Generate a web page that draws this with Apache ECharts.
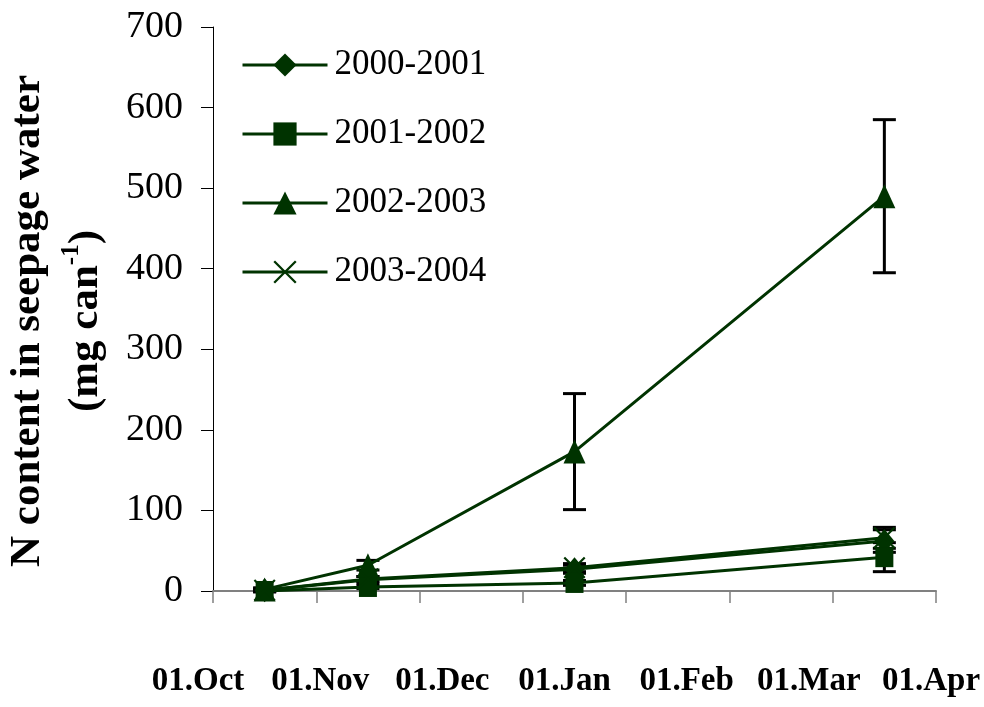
<!DOCTYPE html>
<html>
<head>
<meta charset="utf-8">
<script src="https://cdn.jsdelivr.net/npm/echarts@6/dist/echarts.min.js"></script>
<style>html,body{margin:0;padding:0;background:#fff}#c{width:984px;height:707px}</style>
</head>
<body>
<div id="c"></div>
<script>
// ---- data ----
const months = ['Oct', 'Nov', 'Dec', 'Jan', 'Feb', 'Mar', 'Apr'];
const monthLabels = ['01.Oct', '01.Nov', '01.Dec', '01.Jan', '01.Feb', '01.Mar', '01.Apr'];
const seriesNames = ['2000-2001', '2001-2002', '2002-2003', '2003-2004'];
const s2000 = [1, 14, null, 27, null, null, 62];
const s2001 = [0, 5, null, 10, null, null, 42];
const s2002 = [2, 32, null, 173, null, null, 490];
const s2003 = [1, 15, null, 29, null, null, 66];
const e2000 = [2, 4, null, 5, null, null, 14];
const e2001 = [1, 2, null, 3, null, null, 18];
const e2002 = [2, 6, null, 72, null, null, 95];
const e2003 = [1, 3, null, 5, null, null, 13];
const yTicks = { min: 0, max: 700, interval: 100 };

// ---- styling ----
const GREEN = '#003300';
const FONT = "'Liberation Serif', 'Times New Roman', serif";
const xPath = 'path://M0,7 L7,0 L50,43 L93,0 L100,7 L57,50 L100,93 L93,100 L50,57 L7,100 L0,93 L43,50 Z';
const symbols = [['diamond', [20, 24]], ['rect', [18, 20]], ['triangle', [22, 24]], [xPath, [22, 22]]];
const values = [s2000, s2001, s2002, s2003];
const errors = [e2000, e2001, e2002, e2003];

const lineSeries = values.map((vals, k) => ({
  name: seriesNames[k],
  type: 'line',
  xAxisIndex: 0, yAxisIndex: 0,
  data: vals,
  connectNulls: true,
  symbol: symbols[k][0],
  symbolSize: symbols[k][1],
  itemStyle: { color: GREEN },
  lineStyle: { color: GREEN, width: 3 },
  z: 3
}));

const errData = [];
values.forEach((vals, k) => {
  vals.forEach((v, i) => {
    if (v !== null && errors[k][i] !== null) {
      errData.push([i, v - errors[k][i], v + errors[k][i]]);
    }
  });
});

const errSeries = {
  type: 'custom',
  xAxisIndex: 0, yAxisIndex: 0,
  data: errData,
  encode: { x: 0, y: [1, 2] },
  z: 1,
  silent: true,
  renderItem: function (params, api) {
    const x = api.value(0);
    const lo = api.coord([x, api.value(1)]);
    const hi = api.coord([x, api.value(2)]);
    const hw = 11.5;
    const st = { stroke: '#000', lineWidth: 3 };
    return {
      type: 'group',
      children: [
        { type: 'line', shape: { x1: lo[0], y1: lo[1], x2: hi[0], y2: hi[1] }, style: st },
        { type: 'line', shape: { x1: lo[0] - hw, y1: lo[1], x2: lo[0] + hw, y2: lo[1] }, style: st },
        { type: 'line', shape: { x1: hi[0] - hw, y1: hi[1], x2: hi[0] + hw, y2: hi[1] }, style: st }
      ]
    };
  }
};

const chart = echarts.init(document.getElementById('c'), null, { renderer: 'canvas' });
chart.setOption({
  animation: false,
  backgroundColor: '#fff',
  textStyle: { fontFamily: FONT, color: '#000' },
  grid: [
    { left: 213, right: 48, top: 27, bottom: 116, containLabel: false, outerBoundsMode: 'none' },
    { left: 198, right: 53, top: 640, height: 10, containLabel: false, outerBoundsMode: 'none' }
  ],
  legend: {
    data: seriesNames,
    orient: 'vertical',
    left: 236,
    top: 40,
    padding: 5,
    itemWidth: 85,
    itemHeight: 29,
    itemGap: 29,
    lineStyle: { width: 3 },
    textStyle: { fontFamily: FONT, fontSize: 35, color: '#000', lineHeight: 40, padding: [0, 0, 0, 2] }
  },
  xAxis: [
    {
      type: 'category',
      gridIndex: 0,
      data: months,
      boundaryGap: true,
      axisLine: { lineStyle: { color: '#808080', width: 2 } },
      axisTick: { show: true, inside: false, length: 12, lineStyle: { color: '#808080', width: 1.5 } },
      axisLabel: { show: false },
      splitLine: { show: false }
    },
    {
      type: 'category',
      gridIndex: 1,
      data: monthLabels,
      boundaryGap: false,
      axisLine: { show: false },
      axisTick: { show: false },
      axisLabel: {
        show: true, interval: 0, margin: 15,
        fontFamily: FONT, fontSize: 33, fontWeight: 'bold', color: '#000', lineHeight: 33
      },
      splitLine: { show: false }
    }
  ],
  yAxis: [
    {
      type: 'value',
      gridIndex: 0,
      min: yTicks.min, max: yTicks.max, interval: yTicks.interval,
      axisLine: { show: true, lineStyle: { color: '#000', width: 1 } },
      axisTick: { show: true, inside: false, length: 12, lineStyle: { color: '#000', width: 1 } },
      axisLabel: { fontFamily: FONT, fontSize: 38, color: '#000', margin: 30 },
      splitLine: { show: false },
      name: 'N content in seepage water\n(mg can{sup|-1})',
      nameLocation: 'middle',
      nameRotate: 90,
      nameGap: 94,
      nameTextStyle: {
        fontFamily: FONT, fontSize: 43, fontWeight: 'bold', color: '#000',
        lineHeight: 58, padding: [0, 24, 0, 0],
        rich: {
          sup: { fontFamily: FONT, fontSize: 25, fontWeight: 'bold', color: '#000', padding: [0, 0, 30, 0] }
        }
      }
    },
    { type: 'value', gridIndex: 1, show: false }
  ],
  series: [errSeries].concat(lineSeries)
});
</script>
</body>
</html>
